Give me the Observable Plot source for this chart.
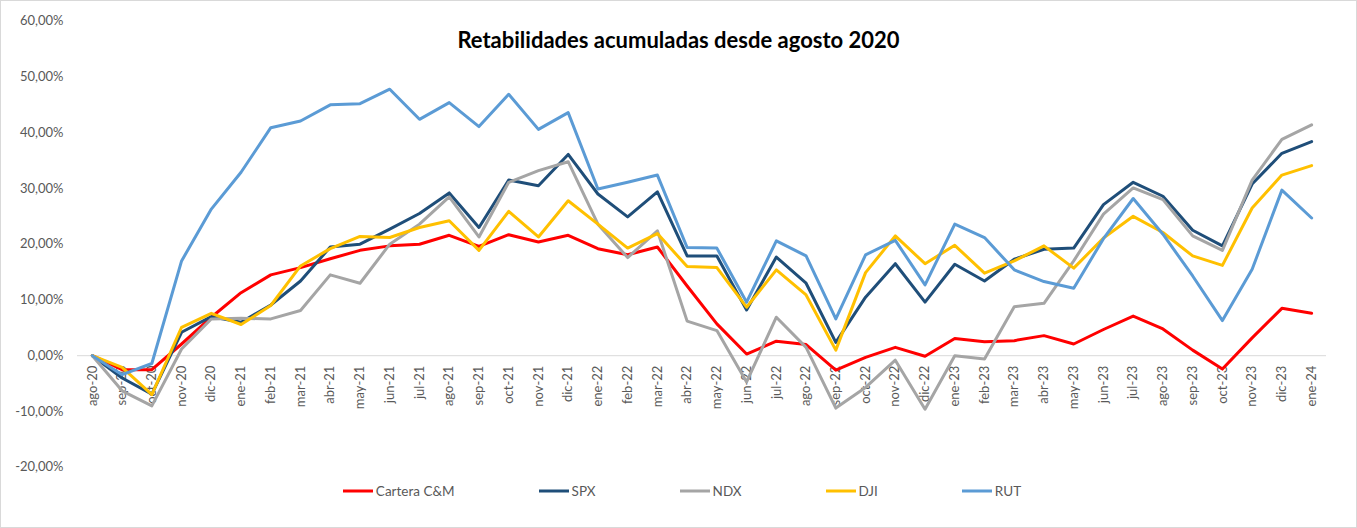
<!DOCTYPE html>
<html lang="es">
<head>
<meta charset="utf-8">
<script src="https://cdn.jsdelivr.net/npm/d3@7"></script>
<script src="https://cdn.jsdelivr.net/npm/@observablehq/plot@0.6"></script>
<style>
  html, body { margin: 0; padding: 0; background: #fff; }
  #chart { position: relative; width: 1357px; height: 528px; background: #fff; font-family: Lato, "Open Sans", sans-serif; }
  #chart > svg.main-plot { position: absolute; left: 0; top: 0; }
  #frame { position: absolute; inset: 0; border: 1px solid #d9d9d9; box-sizing: border-box; pointer-events: none; }
  #title { position: absolute; left: 0; top: 26px; width: 100%; text-align: center; font-weight: 700; font-size: 22px; color: #000; line-height: 28px; }
  #legend { position: absolute; left: 7px; top: 481px; width: 1350px; height: 20px; display: flex; justify-content: center; align-items: center; gap: 84px; font-size: 13.5px; color: #595959; }
  #legend .item { display: flex; align-items: center; gap: 3px; white-space: nowrap; }
  #legend .item svg { display: block; }
</style>
</head>
<body>
<div id="chart">
  <div id="title">Retabilidades acumuladas desde agosto 2020</div>
  <div id="legend"></div>
  <div id="frame"></div>
</div>
<script>
// Months from August 2020 to January 2024
const months = ["ago-20","sep-20","oct-20","nov-20","dic-20","ene-21","feb-21","mar-21","abr-21","may-21","jun-21","jul-21","ago-21","sep-21","oct-21","nov-21","dic-21","ene-22","feb-22","mar-22","abr-22","may-22","jun-22","jul-22","ago-22","sep-22","oct-22","nov-22","dic-22","ene-23","feb-23","mar-23","abr-23","may-23","jun-23","jul-23","ago-23","sep-23","oct-23","nov-23","dic-23","ene-24"];

// Cumulative returns (%) since August 2020
const carteraCM = [0, -2.5, -2.5, 2.1, 6.9, 11.3, 14.5, 15.8, 17.4, 18.9, 19.7, 20.0, 21.6, 19.6, 21.7, 20.4, 21.6, 19.2, 18.1, 19.5, 12.5, 5.7, 0.3, 2.6, 2.0, -2.6, -0.3, 1.5, -0.1, 3.1, 2.5, 2.7, 3.6, 2.1, 4.7, 7.1, 4.8, 1.0, -2.4, 3.2, 8.5, 7.6];
const spx = [0, -4.0, -6.9, 4.2, 7.0, 6.0, 9.1, 13.4, 19.5, 20.0, 22.7, 25.5, 29.2, 23.0, 31.5, 30.5, 36.1, 29.0, 24.9, 29.4, 17.9, 17.9, 8.2, 17.7, 13.0, 2.4, 10.5, 16.5, 9.6, 16.4, 13.4, 17.3, 19.1, 19.3, 27.1, 31.1, 28.6, 22.5, 19.7, 30.8, 36.3, 38.4];
const ndx = [0, -6.3, -9.0, 1.2, 6.6, 6.7, 6.6, 8.1, 14.5, 13.0, 20.0, 23.6, 28.5, 21.3, 31.1, 33.2, 34.8, 23.6, 17.6, 22.4, 6.2, 4.5, -4.7, 6.9, 1.5, -9.4, -5.7, -0.8, -9.6, 0.0, -0.6, 8.8, 9.4, 17.0, 25.4, 30.1, 28.0, 21.5, 18.9, 31.5, 38.8, 41.4];
const dji = [0, -2.1, -7.0, 5.1, 7.6, 5.6, 9.0, 16.1, 19.2, 21.4, 21.2, 23.0, 24.2, 18.9, 25.9, 21.3, 27.8, 23.6, 19.3, 21.9, 16.0, 15.8, 8.7, 15.4, 10.9, 1.0, 14.9, 21.5, 16.5, 19.8, 14.8, 17.0, 19.7, 15.7, 21.1, 25.0, 22.1, 17.9, 16.2, 26.5, 32.4, 34.1];
const rut = [0, -3.4, -1.4, 17.0, 26.3, 32.9, 40.9, 42.1, 45.0, 45.2, 47.8, 42.4, 45.4, 41.1, 46.9, 40.6, 43.6, 29.9, 31.1, 32.4, 19.4, 19.3, 9.6, 20.6, 17.9, 6.6, 18.1, 20.7, 12.7, 23.6, 21.2, 15.4, 13.3, 12.1, 21.0, 28.2, 21.8, 14.3, 6.3, 15.5, 29.7, 24.7];

const seriesNames = ["Cartera C&M", "SPX", "NDX", "DJI", "RUT"];
const seriesValues = [carteraCM, spx, ndx, dji, rut];
const seriesColors = ["#ff0000", "#1f4e79", "#a5a5a5", "#ffc000", "#5b9bd5"];

const yTicks = [-20, -10, 0, 10, 20, 30, 40, 50, 60];

// Spanish number format: comma decimals, plain hyphen for negatives
const esLocale = d3.formatLocale({decimal: ",", thousands: ".", grouping: [3], currency: ["", " €"], minus: "-"});
const fmt2 = esLocale.format(".2f");
const pct = d => fmt2(d) + "%";

// Long table: one row per series and month
const rows = seriesNames.flatMap((name, s) =>
  months.map((mes, i) => ({serie: name, mes, valor: seriesValues[s][i]}))
);

const chart = Plot.plot({
  width: 1357,
  height: 528,
  marginLeft: 77,
  marginRight: 31,
  marginTop: 20.7,
  marginBottom: 61.3,
  style: {fontFamily: "Lato, 'Open Sans', sans-serif", fontSize: "13px", color: "#595959", background: "transparent", overflow: "visible"},
  x: {type: "point", domain: months, padding: 0.5, axis: null},
  y: {domain: [-20, 60], axis: null},
  color: {domain: seriesNames, range: seriesColors},
  marks: [
    Plot.axisY(yTicks, {anchor: "left", tickSize: 0, tickPadding: 14, tickFormat: pct, label: null, fill: "#595959", fontSize: 13}),
    Plot.ruleY([0], {stroke: "#d9d9d9", strokeWidth: 1}),
    Plot.text(months, {x: d => d, y: () => 0, text: d => d, rotate: -90, textAnchor: "end", dy: 10, fill: "#595959", fontSize: 13}),
    Plot.line(rows, {x: "mes", y: "valor", z: "serie", stroke: "serie", strokeWidth: 3, strokeLinejoin: "round", strokeLinecap: "round"})
  ]
});
chart.classList.add("main-plot");
document.getElementById("chart").insertBefore(chart, document.getElementById("title"));

// Legend below the plot
const legend = d3.select("#legend");
seriesNames.forEach((name, s) => {
  const item = legend.append("div").attr("class", "item");
  const sw = item.append("svg").attr("width", 30).attr("height", 6);
  sw.append("line").attr("x1", 0).attr("x2", 30).attr("y1", 3).attr("y2", 3)
    .attr("stroke", seriesColors[s]).attr("stroke-width", 3);
  item.append("span").text(name);
});
</script>
</body>
</html>
